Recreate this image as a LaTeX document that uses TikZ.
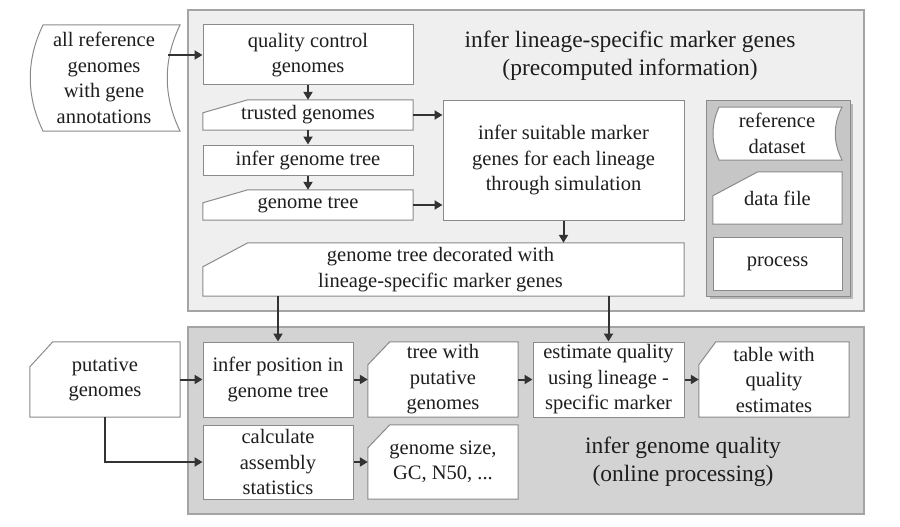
\documentclass[tikz,border=0pt]{standalone}
\usepackage{fontspec}
\setmainfont{Liberation Serif}
\usetikzlibrary{arrows.meta,calc}
\pgfdeclarelayer{panel}
\pgfdeclarelayer{shape}
\pgfsetlayers{panel,shape,main}
\definecolor{boxline}{HTML}{8A8A8A}
\definecolor{panelline}{HTML}{A4A4A4}
\definecolor{topfill}{HTML}{EFEFEF}
\definecolor{botfill}{HTML}{D3D3D3}
\definecolor{legfill}{HTML}{C6C6C6}
\definecolor{legshadow}{HTML}{B8B8B8}
\definecolor{textc}{HTML}{1E1E1E}
\definecolor{arrc}{HTML}{333333}
\newcommand\boxfont{\fontsize{20.5}{25.5}\selectfont}
\newcommand\titlefont{\fontsize{23.5}{28}\selectfont}
\newcommand\cutbox[3]{%
  \begin{pgfonlayer}{shape}
  \filldraw[shapeline] ($(#1.north west)+(0,#3)$) -- ($(#1.north west)+(#2,0)$) -- (#1.north east) -- (#1.south east) -- (#1.south west) -- cycle;
  \end{pgfonlayer}}
\tikzset{
  txt/.style={inner sep=0pt, align=center, font=\boxfont, text=textc},
  proc/.style={txt, draw=boxline, fill=white, line width=1pt},
  shapeline/.style={draw=boxline, fill=white, line width=1pt},
  arr/.style={draw=arrc, line width=2pt, -{Triangle[length=8pt,width=9pt]}},
  paneltop/.style={draw=panelline, fill=topfill, line width=1.2pt},
  panelbot/.style={draw=panelline, fill=botfill, line width=1.2pt},
}
\begin{document}
\begin{tikzpicture}[x=1pt,y=-1pt]
\useasboundingbox (0,0) rectangle (900,527);
% panels
\begin{pgfonlayer}{panel}
\filldraw[paneltop] (188,10) rectangle (864,311);
\filldraw[panelbot] (188,327) rectangle (864,514);
\fill[legshadow] (710,104) rectangle (853,299);
\filldraw[draw=boxline, fill=legfill, line width=1pt] (706,100) rectangle (850,296);
\end{pgfonlayer}
% titles
\node[txt, font=\titlefont] (ttop) at (630,56) {infer lineage-specific marker genes\\(precomputed information)};
\node[txt, font=\titlefont] (tbot) at (683,462) {infer genome quality\\(online processing)};
% stored data shapes
\begin{pgfonlayer}{shape}
\filldraw[shapeline] (43,25) -- (180,25) .. controls (163,60) and (163,96) .. (180,131) -- (43,131) .. controls (26,96) and (26,60) .. (43,25) -- cycle;
\filldraw[shapeline] (719,107) -- (842,107) .. controls (833,125) and (833,142) .. (842,160) -- (719,160) .. controls (711,142) and (711,125) .. (719,107) -- cycle;
\end{pgfonlayer}
\node[txt] (allref) at (104,78) {all reference\\genomes\\with gene\\annotations};
\node[txt] (refds) at (777,133.5) {reference\\dataset};
% top panel
\node[proc, minimum width=210, minimum height=60] (qc) at (308,55) {quality control\\genomes};
\node[txt, minimum width=210, minimum height=30] (trusted) at (308,115) {trusted genomes};
\cutbox{trusted}{45}{13}
\node[proc, minimum width=210, minimum height=30] (itree) at (308,160) {infer genome tree};
\node[txt, minimum width=210, minimum height=30] (gtree) at (308,205) {genome tree};
\cutbox{gtree}{45}{13}
\node[proc, minimum width=241, minimum height=120] (suit) at (563.5,160) {infer suitable marker\\genes for each lineage\\through simulation};
\node[txt, minimum width=481, minimum height=53] (deco) at (443.5,269.5) {\hspace*{-6pt}genome tree decorated with\\\hspace*{-6pt}lineage-specific marker genes};
\cutbox{deco}{45}{24}
% legend
\node[txt, minimum width=129, minimum height=52] (dfile) at (777.5,198) {data file};
\cutbox{dfile}{45}{24}
\node[proc, minimum width=129, minimum height=53] (proc) at (777.5,263.5) {process};
% bottom panel
\node[txt, minimum width=150, minimum height=75] (put) at (105,379.5) {putative\\genomes};
\cutbox{put}{23}{25}
\node[proc, minimum width=150, minimum height=75] (ipos) at (278,379.5) {infer position in\\genome tree};
\node[txt, minimum width=150, minimum height=75] (twith) at (443,379.5) {tree with\\putative\\genomes};
\cutbox{twith}{22}{23}
\node[proc, minimum width=151, minimum height=75] (est) at (608.5,379.5) {estimate quality\\using lineage -\\specific marker};
\node[txt, minimum width=150, minimum height=75] (tab) at (774,379.5) {table with\\quality\\estimates};
\cutbox{tab}{17}{23}
\node[proc, minimum width=150, minimum height=74] (calc) at (278,462) {calculate\\assembly\\statistics};
\node[txt, minimum width=150, minimum height=74] (gsize) at (443,462) {genome size,\\GC, N50, ...};
\cutbox{gsize}{22}{23}
% connectors
\coordinate (arin) at (168,55);
\draw[arr] (arin) -- (qc.west);
\draw[arr] (qc.south) -- (trusted.north);
\draw[arr] (trusted.south) -- (itree.north);
\draw[arr] (itree.south) -- (gtree.north);
\draw[arr] (trusted.east) -- (trusted.east -| suit.west);
\draw[arr] (gtree.east) -- (gtree.east -| suit.west);
\draw[arr] (suit.south) -- (suit.south |- deco.north);
\draw[arr] (deco.south -| ipos.north) -- (ipos.north);
\draw[arr] (deco.south -| est.north) -- (est.north);
\draw[arr] (put.east) -- (ipos.west);
\draw[arr] (put.south) |- (calc.west);
\draw[arr] (ipos.east) -- (twith.west);
\draw[arr] (twith.east) -- (est.west);
\draw[arr] (est.east) -- (tab.west);
\draw[arr] (calc.east) -- (gsize.west);
\end{tikzpicture}
\end{document}
